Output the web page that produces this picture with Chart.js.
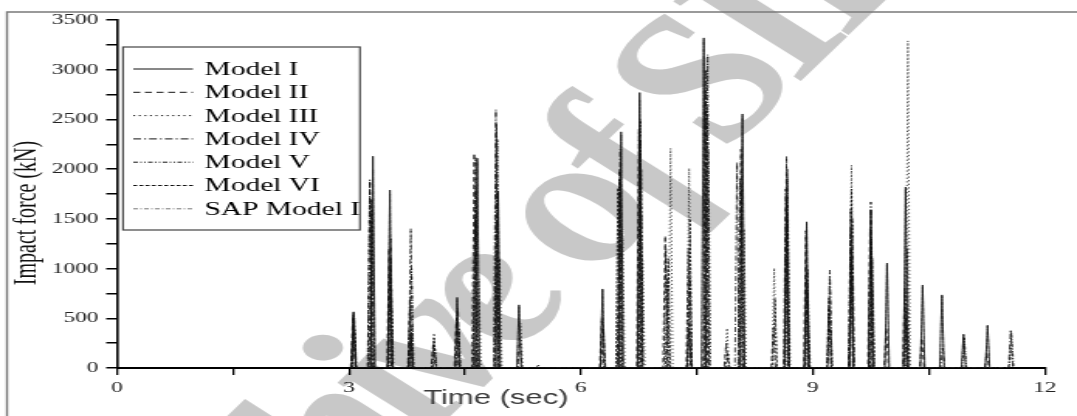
<!DOCTYPE html>
<html>
<head>
<meta charset="utf-8">
<title>Impact force</title>
<script src="https://cdn.jsdelivr.net/npm/chart.js@4.4.1/dist/chart.umd.min.js"></script>
<style>
  html, body { margin: 0; padding: 0; background: #fff; overflow: hidden; }
  /* the figure is drawn narrow and stretched sideways, like the printed plot */
  #wrap { width: 695px; height: 416px; transform: scaleX(1.5496); transform-origin: 0 0; }
</style>
</head>
<body>
<div id="wrap"><canvas id="impact" width="695" height="416"></canvas></div>
<script>
// impact times (sec) and peak forces (kN) for each model
const modelNames = ['Model I', 'Model II', 'Model III', 'Model IV', 'Model V', 'Model VI', 'SAP Model I'];

const m1Times = [3.06, 3.31, 3.53, 3.80, 4.40, 4.66, 4.93, 5.20, 6.28, 6.52, 6.76, 7.40, 7.59, 8.09, 8.66, 8.92, 9.50, 9.75, 9.96, 10.20, 10.42, 10.67, 10.95, 11.26];
const m1Peaks = [560, 2130, 1790, 330, 710, 2110, 1780, 635, 795, 2375, 2770, 400, 3320, 2555, 1700, 1470, 1190, 1590, 1055, 1820, 835, 735, 340, 430];

const m2Times = [3.05, 3.27, 3.52, 3.79, 4.09, 4.39, 4.62, 4.91, 5.21, 6.27, 6.50, 6.75, 7.09, 7.39, 7.61, 7.88, 8.07, 8.49, 8.66, 8.91, 9.21, 9.49, 9.74, 9.95, 10.19, 10.41, 11.25];
const m2Peaks = [520, 1880, 1200, 700, 250, 500, 2160, 1500, 300, 500, 2000, 2400, 1330, 1200, 2800, 250, 2200, 400, 2130, 1380, 600, 1600, 1400, 400, 800, 300, 150];

const m3Times = [3.07, 3.28, 3.55, 3.81, 4.10, 4.68, 4.95, 5.22, 6.54, 6.80, 7.16, 7.40, 7.65, 7.89, 8.11, 8.50, 8.68, 8.94, 9.23, 9.50, 9.77, 10.23];
const m3Peaks = [480, 1500, 800, 400, 350, 900, 1100, 450, 1400, 1080, 2210, 2010, 2200, 400, 1400, 1005, 1500, 700, 400, 2040, 800, 3290];

const m4Times = [3.06, 3.29, 3.54, 3.80, 4.41, 4.64, 4.90, 6.29, 6.51, 6.77, 7.10, 7.41, 7.62, 8.02, 8.65, 8.93, 9.22, 9.51, 9.75, 10.21, 10.68, 11.56];
const m4Peaks = [540, 1700, 1300, 1400, 600, 1800, 2600, 400, 2200, 2300, 1200, 900, 3000, 2070, 1800, 1000, 985, 1500, 1670, 600, 200, 385];

const m5Times = [3.06, 3.27, 3.53, 3.81, 4.11, 4.42, 4.64, 4.92, 5.45, 6.50, 6.77, 7.12, 7.64, 8.06, 8.67, 8.93, 9.22, 9.49, 9.76, 10.20, 10.96, 11.57];
const m5Peaks = [570, 1900, 1000, 1000, 200, 400, 2120, 2300, 30, 1900, 2500, 900, 3150, 1900, 1900, 800, 900, 1400, 1300, 500, 300, 350];

const m6Times = [3.07, 3.30, 3.54, 3.79, 4.10, 4.63, 4.91, 6.48, 6.78, 7.13, 7.41, 7.63, 7.90, 8.08, 8.51, 8.67, 8.92, 9.21, 9.50, 9.77, 10.22];
const m6Peaks = [500, 1600, 1100, 600, 300, 1500, 2450, 1810, 2000, 1100, 1500, 2600, 150, 1800, 700, 2000, 900, 700, 1800, 1100, 1200];

const sapTimes = [3.06, 3.31, 3.53, 3.80, 4.40, 4.66, 4.93, 5.20, 6.28, 6.52, 6.76, 7.59, 8.09, 8.66, 8.92, 9.50, 9.75, 9.96, 10.20, 10.42, 10.67, 10.95, 11.26, 11.56];
const sapPeaks = [530, 2000, 1750, 340, 690, 2080, 1750, 620, 780, 2350, 2700, 3300, 2530, 1650, 1450, 1180, 1570, 1040, 1800, 820, 720, 330, 420, 200];

const xTicks = [0, 3, 6, 9, 12];
const yTicks = [0, 500, 1000, 1500, 2000, 2500, 3000, 3500];

// each contact lasts a few hundredths of a second, force is zero in between
const HALF = 0.028;

function impacts(times, peaks) {
  const pts = [];
  times.forEach((t, i) => {
    pts.push({ x: t - HALF, y: 0 }, { x: t, y: peaks[i] }, { x: t + HALF, y: 0 });
  });
  return pts;
}

const STYLES = [
  { color: '#111', dash: [] },
  { color: '#111', dash: [4.5, 3] },
  { color: '#111', dash: [1.2, 2.4] },
  { color: '#111', dash: [5, 2, 1.2, 2] },
  { color: '#111', dash: [3, 1.5, 1, 1.5, 1, 1.5] },
  { color: '#111', dash: [2.5, 1.5] },
  { color: '#777', dash: [3, 1.5, 1, 1.5] },
];

const series = [
  impacts(m1Times, m1Peaks),
  impacts(m2Times, m2Peaks),
  impacts(m3Times, m3Peaks),
  impacts(m4Times, m4Peaks),
  impacts(m5Times, m5Peaks),
  impacts(m6Times, m6Peaks),
  impacts(sapTimes, sapPeaks),
];

const SERIF = '"Liberation Serif", "Times New Roman", serif';

const decor = {
  id: 'decor',
  beforeDraw(chart) {
    const ctx = chart.ctx;
    ctx.save();
    ctx.fillStyle = '#fff';
    ctx.fillRect(0, 0, chart.width, chart.height);

    // watermark
    ctx.translate(322, 290);
    ctx.rotate(-56 * Math.PI / 180);
    ctx.fillStyle = '#c8c8c8';
    ctx.font = 'italic bold 172px ' + SERIF;
    ctx.letterSpacing = '-12px';
    ctx.textAlign = 'center';
    ctx.textBaseline = 'middle';
    ctx.fillText('Archive of SID', 0, 0);
    ctx.restore();

    // outer frame
    ctx.save();
    ctx.strokeStyle = '#7a7a7a';
    ctx.lineWidth = 1.4;
    ctx.beginPath();
    ctx.moveTo(4.5, chart.height + 2);
    ctx.lineTo(4.5, 12);
    ctx.lineTo(chart.width + 2, 12);
    ctx.stroke();
    ctx.restore();
  },
  afterDatasetsDraw(chart) {
    const ctx = chart.ctx;
    ctx.save();

    // legend box
    const bx = 79.4, by = 47, bw = 152.9, bh = 183;
    ctx.fillStyle = '#fff';
    ctx.fillRect(bx, by, bw, bh);
    ctx.strokeStyle = '#444';
    ctx.lineWidth = 1.2;
    ctx.strokeRect(bx, by, bw, bh);

    ctx.font = '19px ' + SERIF;
    ctx.textBaseline = 'middle';
    ctx.textAlign = 'left';
    chart.data.datasets.forEach((ds, i) => {
      const y = 69 + i * 23.3;
      ctx.strokeStyle = ds.borderColor;
      ctx.lineWidth = 1;
      ctx.setLineDash(ds.borderDash);
      ctx.beginPath();
      ctx.moveTo(86, y);
      ctx.lineTo(124.5, y);
      ctx.stroke();
      ctx.setLineDash([]);
      ctx.fillStyle = '#000';
      ctx.fillText(ds.label, 132, y + 1);
    });

    // axis titles
    ctx.fillStyle = '#3a3a3a';
    ctx.font = '20px "Liberation Sans", Arial, sans-serif';
    ctx.textAlign = 'center';
    ctx.fillText('Time (sec)', 320, 398);

    ctx.translate(18, 213);
    ctx.rotate(-Math.PI / 2);
    ctx.fillStyle = '#111';
    ctx.font = '20px ' + SERIF;
    ctx.fillText('Impact force (kN)', 0, 0);
    ctx.restore();
  }
};

new Chart(document.getElementById('impact'), {
  type: 'line',
  data: {
    datasets: series.map((data, i) => ({
      label: modelNames[i],
      data,
      borderColor: STYLES[i].color,
      borderDash: STYLES[i].dash,
      borderWidth: 0.8,
      pointRadius: 0,
      fill: false,
      tension: 0,
    }))
  },
  options: {
    responsive: false,
    animation: false,
    events: [],
    layout: { padding: { top: 20, right: 20.8, bottom: 0, left: 0 } },
    plugins: { legend: { display: false }, tooltip: { enabled: false } },
    scales: {
      x: {
        type: 'linear',
        min: 0,
        max: 12,
        afterFit: s => { s.height = 48; },
        ticks: {
          stepSize: 1.5,
          autoSkip: false,
          maxRotation: 0,
          padding: 4,
          color: '#222',
          font: { family: SERIF, size: 15 },
          callback: v => xTicks.includes(v) ? v : '',
        },
        grid: { drawOnChartArea: false, drawTicks: true, tickLength: 7, color: '#000', lineWidth: 1.3 },
        border: { display: true, color: '#000', width: 2 },
      },
      y: {
        min: 0,
        max: 3500,
        afterFit: s => { s.width = 75.5; },
        ticks: {
          stepSize: 250,
          autoSkip: false,
          padding: 5,
          color: '#222',
          font: { family: SERIF, size: 15 },
          callback: v => yTicks.includes(v) ? v : '',
        },
        grid: { drawOnChartArea: false, drawTicks: true, tickLength: 7, color: '#000', lineWidth: 1.5 },
        border: { display: true, color: '#000', width: 1.6 },
      }
    }
  },
  plugins: [decor]
});
</script>
</body>
</html>
